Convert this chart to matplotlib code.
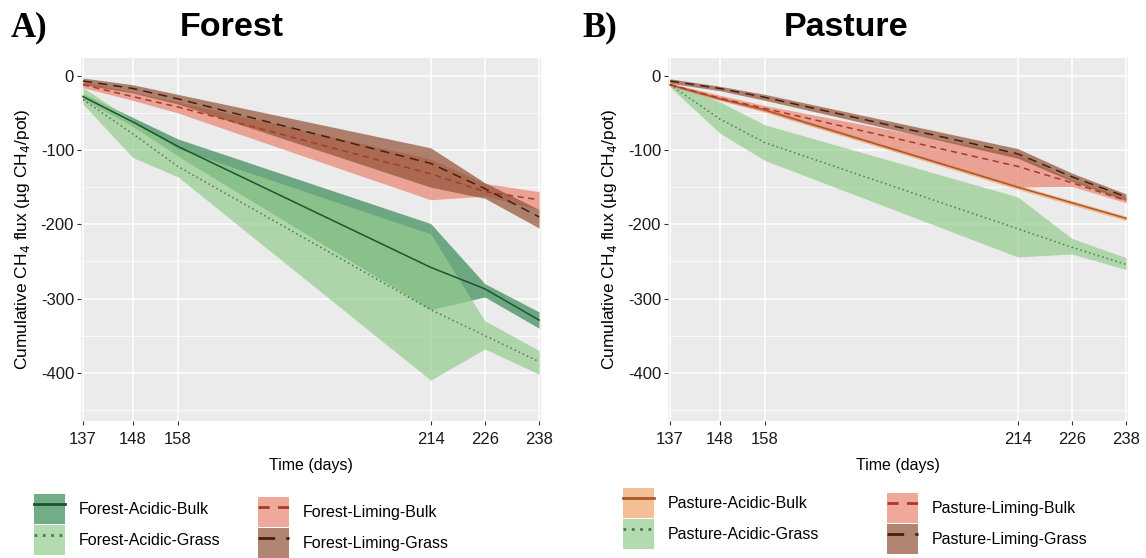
import matplotlib
matplotlib.use('Agg')
import matplotlib.pyplot as plt
from matplotlib.patches import Patch
from matplotlib.lines import Line2D

#%% Data (cumulative CH4 flux, ug CH4/pot)
days = [137, 148, 158, 214, 226, 238]

# Forest
forest_acidic_bulk = [-28, -62, -95, -258, -287, -329]
forest_acidic_bulk_hi = [-24, -56, -85, -199, -280, -318]
forest_acidic_bulk_lo = [-32, -68, -108, -315, -298, -340]

forest_acidic_grass = [-32, -78, -122, -315, -350, -385]
forest_acidic_grass_hi = [-16, -60, -98, -213, -330, -370]
forest_acidic_grass_lo = [-38, -110, -136, -410, -368, -402]

forest_liming_bulk = [-12, -28, -42, -132, -156, -167]
forest_liming_bulk_hi = [-8, -22, -35, -112, -145, -156]
forest_liming_bulk_lo = [-16, -33, -50, -167, -162, -180]

forest_liming_grass = [-7, -17, -31, -118, -152, -190]
forest_liming_grass_hi = [-3, -12, -25, -97, -144, -180]
forest_liming_grass_lo = [-12, -23, -38, -150, -165, -205]

# Pasture
pasture_acidic_bulk = [-12, -31, -46, -150, -171, -192]
pasture_acidic_bulk_hi = [-10, -28, -43, -147, -168, -189]
pasture_acidic_bulk_lo = [-14, -33, -49, -153, -174, -195]

pasture_acidic_grass = [-12, -58, -90, -206, -231, -254]
pasture_acidic_grass_hi = [-9, -35, -66, -163, -219, -245]
pasture_acidic_grass_lo = [-15, -77, -114, -244, -240, -261]

pasture_liming_bulk = [-12, -30, -44, -122, -144, -168]
pasture_liming_bulk_hi = [-10, -26, -40, -106, -140, -164]
pasture_liming_bulk_lo = [-14, -33, -48, -150, -149, -171]

pasture_liming_grass = [-7, -17, -29, -105, -136, -163]
pasture_liming_grass_hi = [-4, -14, -25, -98, -131, -159]
pasture_liming_grass_lo = [-10, -20, -33, -111, -142, -168]

yticks = [0, -100, -200, -300, -400]

#%% Styles
W, H = 1146, 558
plt.rcParams['font.family'] = ['Liberation Sans', 'DejaVu Sans']
plt.rcParams['axes.unicode_minus'] = False

green_dark = ('#388a55', '#1c5430', '-')
green_light = ('#94cd8d', '#4a7a52', (0, (1, 2)))
salmon = ('#ea8370', '#a8392b', (0, (4, 3)))
brown = ('#915137', '#45200f', (0, (6, 4)))
orange = ('#f2a569', '#a8582a', '-')

panels = [
    dict(tag='A)', title='Forest', left=81, tag_x=11, title_x=232,
         key_cols=[(34, 494), (258, 497)],
         series=[
             ('Forest-Acidic-Bulk', forest_acidic_bulk, forest_acidic_bulk_lo, forest_acidic_bulk_hi, green_dark),
             ('Forest-Acidic-Grass', forest_acidic_grass, forest_acidic_grass_lo, forest_acidic_grass_hi, green_light),
             ('Forest-Liming-Bulk', forest_liming_bulk, forest_liming_bulk_lo, forest_liming_bulk_hi, salmon),
             ('Forest-Liming-Grass', forest_liming_grass, forest_liming_grass_lo, forest_liming_grass_hi, brown),
         ]),
    dict(tag='B)', title='Pasture', left=668, tag_x=582, title_x=846,
         key_cols=[(623, 488), (887, 493)],
         series=[
             ('Pasture-Acidic-Bulk', pasture_acidic_bulk, pasture_acidic_bulk_lo, pasture_acidic_bulk_hi, orange),
             ('Pasture-Acidic-Grass', pasture_acidic_grass, pasture_acidic_grass_lo, pasture_acidic_grass_hi, green_light),
             ('Pasture-Liming-Bulk', pasture_liming_bulk, pasture_liming_bulk_lo, pasture_liming_bulk_hi, salmon),
             ('Pasture-Liming-Grass', pasture_liming_grass, pasture_liming_grass_lo, pasture_liming_grass_hi, brown),
         ]),
]

fig = plt.figure(figsize=(W / 100, H / 100), dpi=100)

ax_w, ax_top, ax_bot = 460, 58, 421
for p in panels:
    ax = fig.add_axes([p['left'] / W, 1 - ax_bot / H, ax_w / W, (ax_bot - ax_top) / H])
    ax.set_facecolor('#ebebeb')
    for s in ax.spines.values():
        s.set_visible(False)
    ax.set_axisbelow(True)
    ax.set_yticks([-50, -150, -250, -350, -450], minor=True)
    ax.grid(which='major', color='white', lw=1.1)
    ax.grid(which='minor', axis='y', color='white', lw=0.55)
    ax.set_xticks(days)
    ax.set_yticks(yticks)
    ax.set_xlim(136.56, 238.44)
    ax.set_ylim(-465, 24)
    ax.tick_params(which='major', length=3, width=0.8, color='#333333', labelsize=12,
                   labelcolor='#1a1a1a', pad=2)
    ax.tick_params(axis='x', pad=5)
    ax.tick_params(which='minor', length=0)
    ax.set_xlabel('Time (days)', fontsize=11.5, labelpad=8)
    ax.set_ylabel('Cumulative CH$_4$ flux (µg CH$_4$/pot)', fontsize=12.5, labelpad=6)

    handles = []
    for label, mean, lo, hi, (fill, line, ls) in p['series']:
        ax.fill_between(days, lo, hi, color=fill, alpha=0.7, lw=0)
        ax.plot(days, mean, color=line, ls=ls, lw=1.1)
        handles.append((Patch(facecolor=fill, alpha=0.7, edgecolor='none'),
                        Line2D([], [], color=line, ls=ls, lw=2)))

    fig.text(p['tag_x'] / W, 1 - 28 / H, p['tag'], fontsize=25, fontweight='bold',
             family='Liberation Serif', va='center', ha='left')
    fig.text(p['title_x'] / W, 1 - 27 / H, p['title'], fontsize=24.5, fontweight='bold',
             va='center', ha='center')

    labels = [s[0] for s in p['series']]
    for col, (kx, ky) in enumerate(p['key_cols']):
        fig.legend(handles[2 * col:2 * col + 2], labels[2 * col:2 * col + 2],
                   loc='upper left', bbox_to_anchor=(kx / W, 1 - ky / H),
                   frameon=False, borderpad=0, borderaxespad=0, fontsize=11.5,
                   handlelength=1.92, handleheight=2.5, labelspacing=0.07,
                   handletextpad=0.9)

fig.savefig('out.png', dpi=100)
